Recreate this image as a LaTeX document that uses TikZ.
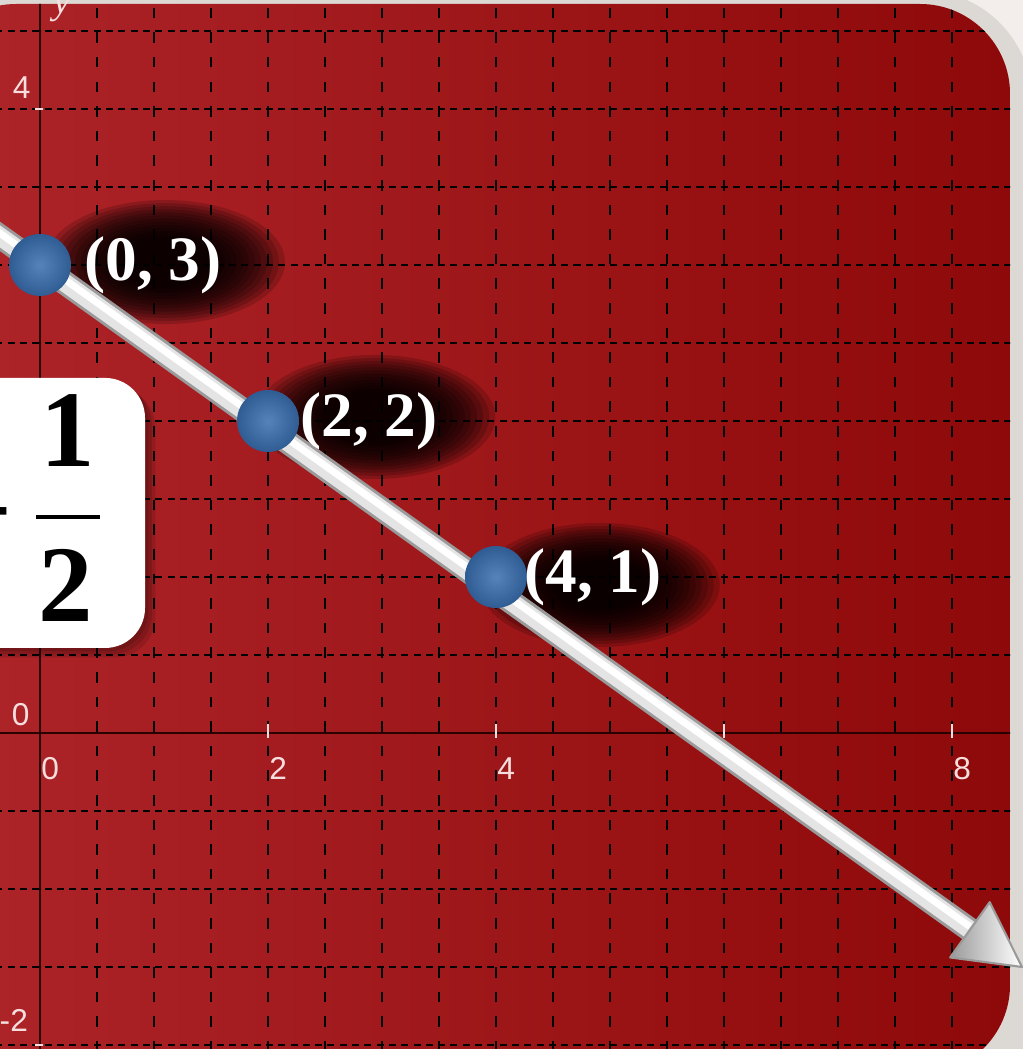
\documentclass[tikz,border=0pt]{standalone}
\usepackage{fontspec}
\setmainfont{Liberation Serif}
\newfontfamily\axisfont{Liberation Sans}
\usepackage{tikz}
\usetikzlibrary{positioning, calc}
\definecolor{paper}{HTML}{F3EEEC}
\definecolor{frame}{HTML}{DCD9D4}
\definecolor{redlight}{HTML}{AE252A}
\definecolor{reddark}{HTML}{800303}
\definecolor{redright}{HTML}{8E0909}
\definecolor{axisline}{HTML}{2A0101}
\definecolor{ticktext}{HTML}{F6DEDE}
\definecolor{dotblue}{HTML}{2F5C93}
\definecolor{dotlight}{HTML}{5683BA}
\definecolor{tubeedge}{HTML}{9A9A9A}
\definecolor{tubebody}{HTML}{E4E4E4}

\begin{document}
\begin{tikzpicture}[x=1.14cm, y=1.56cm,
    gridh/.style={black, line width=0.8pt, dash pattern=on 2pt off 1.5pt},
    gridv/.style={black, line width=0.8pt, dash pattern=on 3pt off 4pt},
    ticklbl/.style={text=ticktext, inner sep=0pt, font=\axisfont\fontsize{9}{10}\selectfont},
    dot/.style={circle, minimum size=0.62cm, inner sep=0pt, shading=radial, inner color=dotlight, outer color=dotblue},
    coordlbl/.style={text=white, inner sep=0pt, anchor=west, font=\fontsize{18}{20}\selectfont\bfseries},
    fracdigit/.style={inner sep=0pt, font=\fontsize{31}{34}\selectfont\bfseries}]
  \useasboundingbox (-0.3509,-2.0256) rectangle (8.6228,4.6987);
  \clip (-0.3509,-2.0256) rectangle (8.6228,4.6987);

  % Frame
  \fill[paper] (-0.3509,-2.0256) rectangle (8.6228,4.6987);
  \fill[frame, rounded corners=1.1cm] (-1,-3) rectangle (8.70,4.76);
  \shade[left color=redlight, middle color=reddark, right color=redright, rounded corners=0.9cm]
    (-1,-2.19) rectangle (8.509,4.673);

  % Grid
  \begin{scope}
    \clip[rounded corners=0.9cm] (-1,-2.19) rectangle (8.509,4.673);
    \foreach \y in {-2,-1.5,-1,-0.5,0.5,1,1.5,2,2.5,3,3.5,4,4.5}
      \draw[gridh] (-0.5,\y) -- (8.6,\y);
    \foreach \x in {0.5,1,...,8}
      \draw[gridv] (\x,-2.2) -- (\x,4.7);
    \draw[axisline, line width=0.8pt] (-0.5,0) -- (8.6,0);
    \draw[axisline, line width=0.8pt] (0,-2.2) -- (0,4.7);
  \end{scope}

  % Ticks and axis labels
  \foreach \x in {2,4,6,8}
    \draw[ticktext, line width=0.8pt] (\x,-0.03) -- (\x,0.06);
  \foreach \y in {4,-2}
    \draw[ticktext, line width=0.8pt] (-0.045,\y) -- (0.03,\y);
  \foreach \x in {0,2,4,8}
    \node[ticklbl] (xl\x) at (\x+0.09,-0.23) {\x};
  \node[ticklbl] (yl4) at (-0.16,4.14) {4};
  \node[ticklbl] (yl0) at (-0.17,0.115) {0};
  \node[ticklbl] (ylm2) at (-0.23,-1.84) {-2};
  \node[text=ticktext, inner sep=0pt, font=\fontsize{11}{12}\selectfont\itshape] (ylbl) at (0.19,4.64) {y};

  % Slope box
  \foreach \o in {1,2,3}
    \fill[black, opacity=0.12, rounded corners=0.4cm] ($(-0.877,0.545)+(0.03*\o,-0.02*\o)$) rectangle ($(0.921,2.276)+(0.03*\o,-0.02*\o)$);
  \fill[white, rounded corners=0.4cm] (-0.877,0.545) rectangle (0.921,2.276);
  \node[fracdigit] (num) at (0.246,1.942) {1};
  \node[fracdigit] (den) at (0.228,0.949) {2};
  \draw[line width=1.3pt] (-0.035,1.385) -- (0.526,1.385);
  \node[fracdigit, anchor=east] (minus) at (-0.235,1.32) {−};

  % Glows behind the labels
  \foreach \gx/\gy in {1.096/3.019, 2.94/2.026, 4.91/0.949}
    \foreach \s in {8,...,20}
      \fill[black, opacity=0.17] (\gx,\gy) ellipse ({0.06*\s cm} and {0.031*\s cm});

  % Line y = -x/2 + 3
  \coordinate (start) at (-0.45,3.235);
  \coordinate (tip) at (8.614,-1.5);
  \coordinate (base) at ($(tip)!0.64cm!(start)$);
  \coordinate (hl) at ($(base)!0.34cm!90:(tip)$);
  \coordinate (hr) at ($(base)!0.34cm!-90:(tip)$);
  \draw[tubeedge, line width=0.24cm] (start) -- ($(base)!0.05cm!(tip)$);
  \draw[tubebody, line width=0.18cm] (start) -- (base);
  \draw[white, line width=0.07cm] ($(start)+(0,0.02)$) -- ($(base)+(0,0.02)$);
  \shade[left color=tubeedge, right color=white, draw=tubeedge, line width=0.6pt, line join=round]
    (tip) -- (hl) -- (hr) -- cycle;

  % Points
  \node[dot] (p03) at (0,3) {};
  \node[dot] (p22) at (2,2) {};
  \node[dot] (p41) at (4,1) {};
  \node[coordlbl, right=0.12cm of p03] (l03) {(0, 3)};
  \node[coordlbl, right=0cm of p22] (l22) {(2, 2)};
  \node[coordlbl, right=-0.04cm of p41] (l41) {(4, 1)};
\end{tikzpicture}
\end{document}
